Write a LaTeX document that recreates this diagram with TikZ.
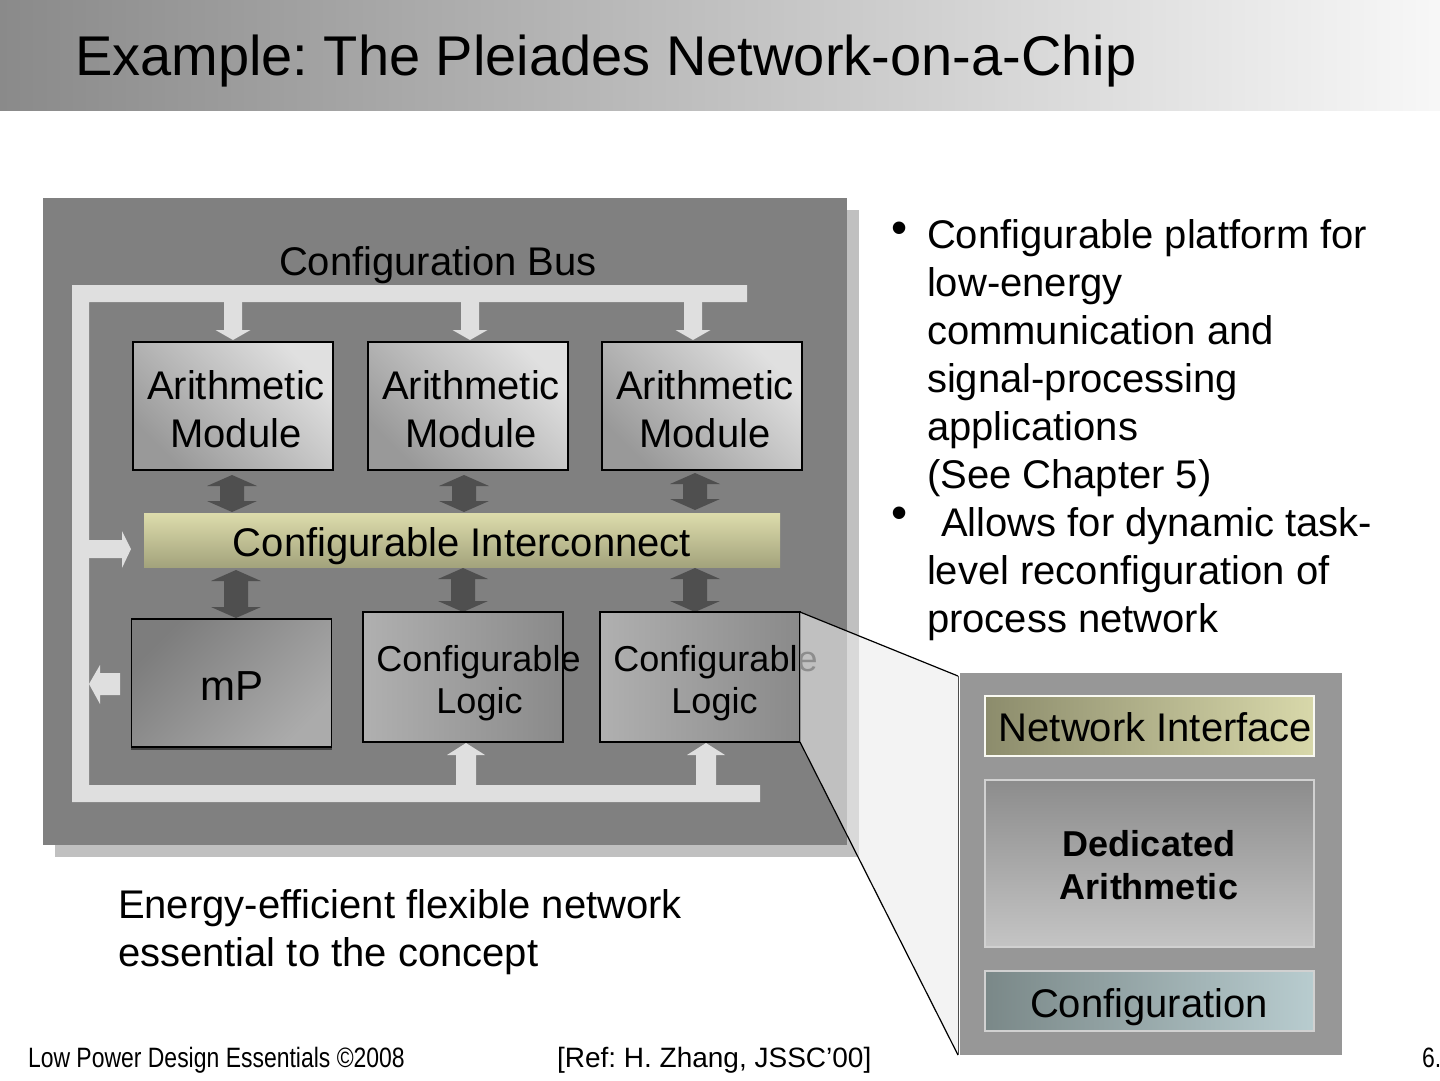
\documentclass[tikz,border=0pt]{standalone}
\usepackage{fontspec}
\setmainfont{Liberation Sans}
\newfontfamily\narrowfont{Liberation Sans}[FakeStretch=0.82]
\frenchspacing
\definecolor{titleL}{HTML}{8A8A8A}
\definecolor{mainbox}{HTML}{808080}
\definecolor{shadowgray}{HTML}{C0C0C0}
\definecolor{buslight}{HTML}{DFDFDF}
\definecolor{arrdark}{HTML}{4F4F4F}
\definecolor{detailbox}{HTML}{979797}
\definecolor{ciTop}{HTML}{DDDCAC}
\definecolor{ciBot}{HTML}{A3A37C}
\definecolor{niL}{HTML}{8C8C6C}
\definecolor{niR}{HTML}{D8D8AA}
\definecolor{cfL}{HTML}{7A8888}
\definecolor{cfR}{HTML}{B8CCCF}
\newcommand\busdown[1]{\fill[buslight] (#1-9,300) -- (#1+9,300) -- (#1+9,330) -- (#1+17.5,330) -- (#1,340) -- (#1-17.5,330) -- (#1-9,330) -- cycle;}
\newcommand\busup[1]{\fill[buslight] (#1-10,787) -- (#1-10,755) -- (#1-19,755) -- (#1,743) -- (#1+19,755) -- (#1+10,755) -- (#1+10,787) -- cycle;}
\newcommand\dblarr[3]{\fill[arrdark] (#1,#2) -- (#1+25,#2+11) -- (#1+12,#2+11) -- (#1+12,#3-11) -- (#1+25,#3-11) -- (#1,#3) -- (#1-25,#3-11) -- (#1-12,#3-11) -- (#1-12,#2+11) -- (#1-25,#2+11) -- cycle;}
\tikzset{
  txt/.style={inner sep=0pt, outer sep=0pt, anchor=base},
  txtw/.style={inner sep=0pt, outer sep=0pt, anchor=base west},
  f40/.style={font=\fontsize{40}{48}\selectfont},
  f36/.style={font=\fontsize{36}{42}\selectfont},
  bul/.style={txt, font=\fontsize{46}{50}\selectfont},
  blk/.style={rectangle, inner sep=0pt, outer sep=0pt},
  ambox/.style={blk, draw=black, line width=1.3pt, minimum width=200pt, minimum height=128pt,
     top color=white!88!black, bottom color=white!60!black, shading angle=-45},
  clbox/.style={blk, draw=black, line width=1.3pt, minimum width=200pt, minimum height=130pt,
     left color=white!69!black, right color=white!54!black},
}
\begin{document}
\begin{tikzpicture}[x=1pt,y=-1pt]
\useasboundingbox (0,0) rectangle (1440,1080);
% title bar
\shade[left color=titleL, right color=white!97!black] (0,0) rectangle (1440,110);
\node[txtw, font=\fontsize{56}{60}\selectfont] (title) at (75,75) {Example: The Pleiades Network-on-a-Chip};

% main box with shadow
\fill[shadowgray] (55,210) rectangle (859,857);
\fill[mainbox] (43,198) rectangle (847,845);
\node[txt, f40] (cbus) at (438,275) {Configuration Bus};

% configuration bus
\fill[buslight] (72,285) -- (747,285) -- (747,302) -- (89,302) -- (89,785) -- (760,785) -- (760,802) -- (72,802) -- cycle;
\busdown{233}
\busdown{470}
\busdown{693}
\busup{466}
\busup{706}
\fill[buslight] (89,540) -- (122,540) -- (122,531) -- (131,549) -- (122,568) -- (122,558) -- (89,558) -- cycle;
\fill[buslight] (120,673) -- (100,673) -- (100,665) -- (89,684) -- (100,704) -- (100,695) -- (120,695) -- cycle;

% arithmetic modules
\node[ambox] (am1) at (233,406) {};
\node[ambox] (am2) at (468,406) {};
\node[ambox] (am3) at (702,406) {};
\node[txt, f40] (am1a) at (236,399) {Arithmetic};
\node[txt, f40] (am1b) at (236,447) {Module};
\node[txt, f40] (am2a) at (471,399) {Arithmetic};
\node[txt, f40] (am2b) at (471,447) {Module};
\node[txt, f40] (am3a) at (705,399) {Arithmetic};
\node[txt, f40] (am3b) at (705,447) {Module};

% interconnect
\node[blk, minimum width=636pt, minimum height=54pt, top color=ciTop, bottom color=ciBot] (ci) at (462,540) {};
\node[txt, f40] (cit) at (462,556) {Configurable Interconnect};

% double arrows
\dblarr{232}{475}{512}
\dblarr{464}{475}{512}
\dblarr{695}{473}{510}
\dblarr{236}{570}{618}
\dblarr{463}{568}{612}
\dblarr{695}{568}{612}

% lower row
\fill[black!75] (131,744) rectangle (332,750);
\node[blk, draw=black, line width=1.3pt, minimum width=200pt, minimum height=128pt,
   top color=white!49!black, bottom color=white!67!black, shading angle=45] (mp) at (231.5,683) {};
\node[txt, font=\fontsize{42}{48}\selectfont] (mpt) at (232,700) {mP};
\node[clbox] (cl1) at (463,677) {};
\node[clbox] (cl2) at (700,677) {};
\node[txt, f36] (cl1a) at (478.5,671) {Configurable};
\node[txt, f36] (cl1b) at (479.5,713) {Logic};
\node[txt, f36] (cl2a) at (715.5,671) {Configurable};
\node[txt, f36] (cl2b) at (714.5,713) {Logic};

% zoom trapezoid
\coordinate (zt) at (958,676);
\coordinate (zb) at (958,1055);
\fill[white!92!black, fill opacity=0.6] (cl2.north east) -- (zt) -- (zb) -- (cl2.south east) -- cycle;
\draw[black, line width=1.2pt] (cl2.north east) -- (zt);
\draw[black, line width=1.2pt] (cl2.south east) -- (zb);
\draw[black!70, line width=0.8pt] (zt) -- (zb);

% detail box
\node[blk, fill=detailbox, minimum width=382pt, minimum height=382pt] (nd) at (1151,864) {};
\node[blk, draw=white!85!niR, line width=1.2pt, minimum width=329pt, minimum height=60pt,
   left color=niL, right color=niR] (ni) at (1149.5,726) {};
\node[blk, draw=white!82!black, line width=1.2pt, minimum width=329pt, minimum height=167pt,
   top color=white!55!black, bottom color=white!77!black] (da) at (1149.5,863.5) {};
\node[blk, draw=white!82!black, line width=1.2pt, minimum width=329pt, minimum height=60pt,
   left color=cfL, right color=cfR] (cf) at (1149.5,1001) {};
\node[txt, f40] (nit) at (1155.5,741) {Network Interface};
\node[txt, font=\fontsize{36}{42}\selectfont\bfseries] (dat1) at (1149,856) {Dedicated};
\node[txt, font=\fontsize{36}{42}\selectfont\bfseries] (dat2) at (1149,899) {Arithmetic};
\node[txt, f40] (cft) at (1149,1017) {Configuration};

% bullets
\node[bul] (bu1) at (900,243) {•};
\node[txtw, f40] (l1) at (927,248) {Configurable platform for};
\node[txtw, f40] (l2) at (927,296) {low-energy};
\node[txtw, f40] (l3) at (927,344) {communication and};
\node[txtw, f40] (l4) at (927,392) {signal-processing};
\node[txtw, f40] (l5) at (927,440) {applications};
\node[txtw, f40] (l6) at (927,488) {(See Chapter 5)};
\node[bul] (bu2) at (900,528) {•};
\node[txtw, f40] (l7) at (941,536) {Allows for dynamic task-};
\node[txtw, f40] (l8) at (927,584) {level reconfiguration of};
\node[txtw, f40] (l9) at (927,632) {process network};

% caption
\node[txtw, f40] (cap1) at (118,918) {Energy-efficient flexible network};
\node[txtw, f40] (cap2) at (118,966) {essential to the concept};

% footer
\node[txtw, font=\narrowfont\fontsize{28}{30}\selectfont] (foot) at (28,1067) {Low Power Design Essentials ©2008};
\node[txtw, font=\fontsize{28}{30}\selectfont] (ref) at (557,1067) {[Ref: H. Zhang, JSSC’00]};
\node[txtw, font=\narrowfont\fontsize{28}{30}\selectfont] (pg) at (1422,1067) {6.};
\end{tikzpicture}
\end{document}
